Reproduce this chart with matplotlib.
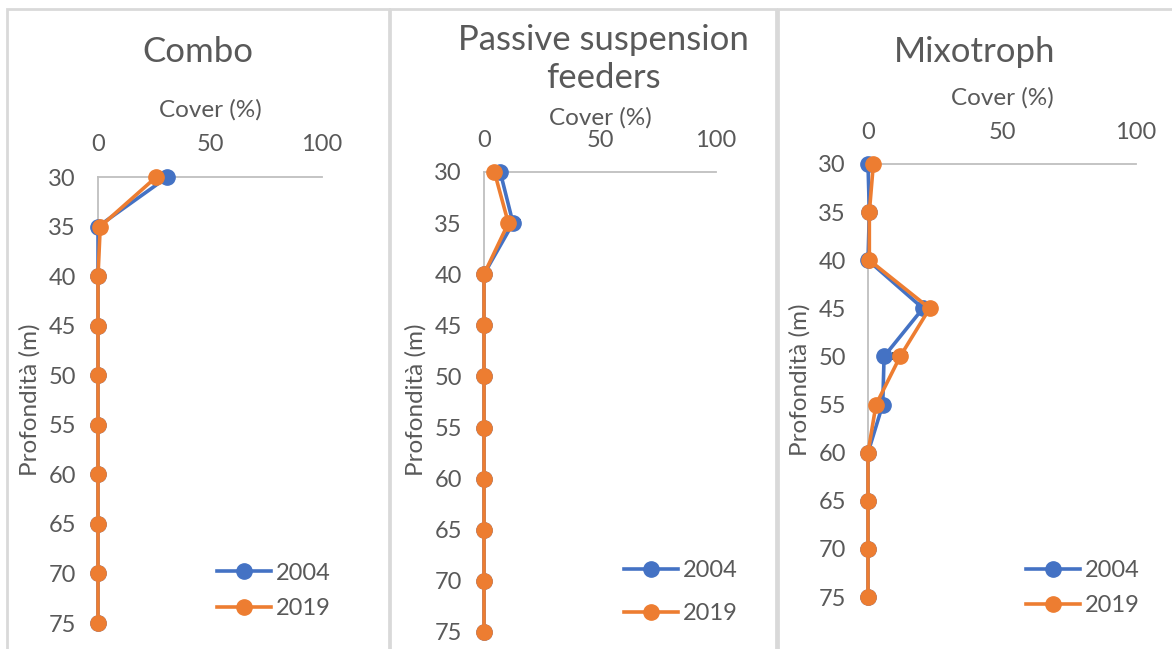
import matplotlib
matplotlib.use("Agg")
import matplotlib.pyplot as plt
from matplotlib.patches import Rectangle

plt.rcParams['font.family'] = ['Lato', 'DejaVu Sans']

depth = [30, 35, 40, 45, 50, 55, 60, 65, 70, 75]
years = ["2004", "2019"]

combo_2004 = [31, 0, 0, 0, 0, 0, 0, 0, 0, 0]
combo_2019 = [26, 1, 0, 0, 0, 0, 0, 0, 0, 0]
combo_err_2004 = [2, 0, 0, 0, 0, 0, 0, 0, 0, 0]
combo_err_2019 = [0, 0, 0, 0, 0, 0, 0, 0, 0, 0]

passive_2004 = [7, 12.5, 0, 0, 0, 0, 0, 0, 0, 0]
passive_2019 = [4.5, 10.5, 0, 0, 0, 0, 0, 0, 0, 0]
passive_err_2004 = [1, 3, 0, 0, 0, 0, 0, 0, 0, 0]
passive_err_2019 = [1, 2, 0, 0, 0, 0, 0, 0, 0, 0]

mixo_2004 = [0, 0.5, 0, 20.5, 6, 5.5, 0, 0, 0, 0]
mixo_2019 = [2, 0.5, 0.5, 23, 12, 3, 0, 0, 0, 0]
mixo_err_2004 = [0, 0, 0, 2, 0, 0, 0, 0, 0, 0]
mixo_err_2019 = [0, 0, 0, 0, 2.5, 0, 0, 0, 0, 0]

titles = ["Combo", "Passive suspension\nfeeders", "Mixotroph"]
xlabel = "Cover (%)"
ylabel = "Profondità (m)"
xticks = [0, 50, 100]
yticks = [30, 35, 40, 45, 50, 55, 60, 65, 70, 75]

BLUE = "#4472C4"
ORANGE = "#ED7D31"
TXT = "#595959"
AX = "#BFBFBF"
BORDER = "#D9D9D9"

W, H = 1172, 649
fig = plt.figure(figsize=(W / 100, H / 100), dpi=100)
fig.patch.set_facecolor("white")


def fx(px):
    return px / W


def fy(py):
    return 1 - py / H


# panel borders
for (l, r) in [(7, 389), (390, 776), (778, 1180)]:
    fig.add_artist(Rectangle((fx(l), fy(660)), fx(r - l), fy(9) - fy(660),
                             transform=fig.transFigure, fill=False,
                             edgecolor=BORDER, linewidth=2))

panels = [
    dict(data=(combo_2004, combo_2019), err=(combo_err_2004, combo_err_2019),
         ax=(98, 322, 177, 623), title=titles[0], title_xy=(198, 52),
         xl_xy=(210, 110), yl=(30, 400), leg=(217, 591), ls=0.62, xpad=16),
    dict(data=(passive_2004, passive_2019), err=(passive_err_2004, passive_err_2019),
         ax=(484, 716, 172, 632), title=titles[1], title_xy=(603, 59),
         xl_xy=(600, 118), yl=(416, 400), leg=(624, 592), ls=0.92, xpad=15),
    dict(data=(mixo_2004, mixo_2019), err=(mixo_err_2004, mixo_err_2019),
         ax=(868, 1136, 164, 597), title=titles[2], title_xy=(975, 52),
         xl_xy=(1002, 98), yl=(800, 380), leg=(1026, 588), ls=0.58, xpad=15),
]

for p in panels:
    x0, x1, y0, y1 = p["ax"]
    ax = fig.add_axes([fx(x0), fy(y1), fx(x1 - x0), fy(y0) - fy(y1)])
    ax.set_facecolor("none")
    for vals, errs, col, lab in zip(p["data"], p["err"], (BLUE, ORANGE), years):
        ax.errorbar(vals, depth, xerr=errs, fmt="none", ecolor="#404040",
                    elinewidth=1.2, capsize=3, capthick=1.2, clip_on=False, zorder=2)
        ax.plot(vals, depth, color=col, lw=2.6, marker="o", ms=11,
                label=lab, clip_on=False, zorder=3)
    ax.set_xlim(0, 100)
    ax.set_ylim(75, 30)
    ax.xaxis.tick_top()
    ax.set_xticks(xticks)
    ax.set_yticks(yticks)
    ax.tick_params(length=0, labelsize=17, labelcolor=TXT)
    ax.tick_params(axis="x", pad=p["xpad"])
    ax.tick_params(axis="y", pad=16)
    for s in ["bottom", "right"]:
        ax.spines[s].set_visible(False)
    for s in ["top", "left"]:
        ax.spines[s].set_color(AX)
        ax.spines[s].set_linewidth(1.3)
    fig.text(fx(p["title_xy"][0]), fy(p["title_xy"][1]), p["title"],
             ha="center", va="center", fontsize=25, color=TXT, linespacing=1.22)
    fig.text(fx(p["xl_xy"][0]), fy(p["xl_xy"][1]), xlabel,
             ha="center", va="center", fontsize=17.5, color=TXT)
    fig.text(fx(p["yl"][0]), fy(p["yl"][1]), ylabel, rotation=90,
             ha="center", va="center", fontsize=17.5, color=TXT)
    leg = ax.legend(loc="center left", bbox_to_anchor=(fx(p["leg"][0]), fy(p["leg"][1])),
                    bbox_transform=fig.transFigure, frameon=False, fontsize=17,
                    handlelength=2.3, labelspacing=p["ls"], handletextpad=0.2,
                    borderpad=0, borderaxespad=0)
    for t in leg.get_texts():
        t.set_color(TXT)

fig.savefig("out.png", dpi=100, facecolor="white")
